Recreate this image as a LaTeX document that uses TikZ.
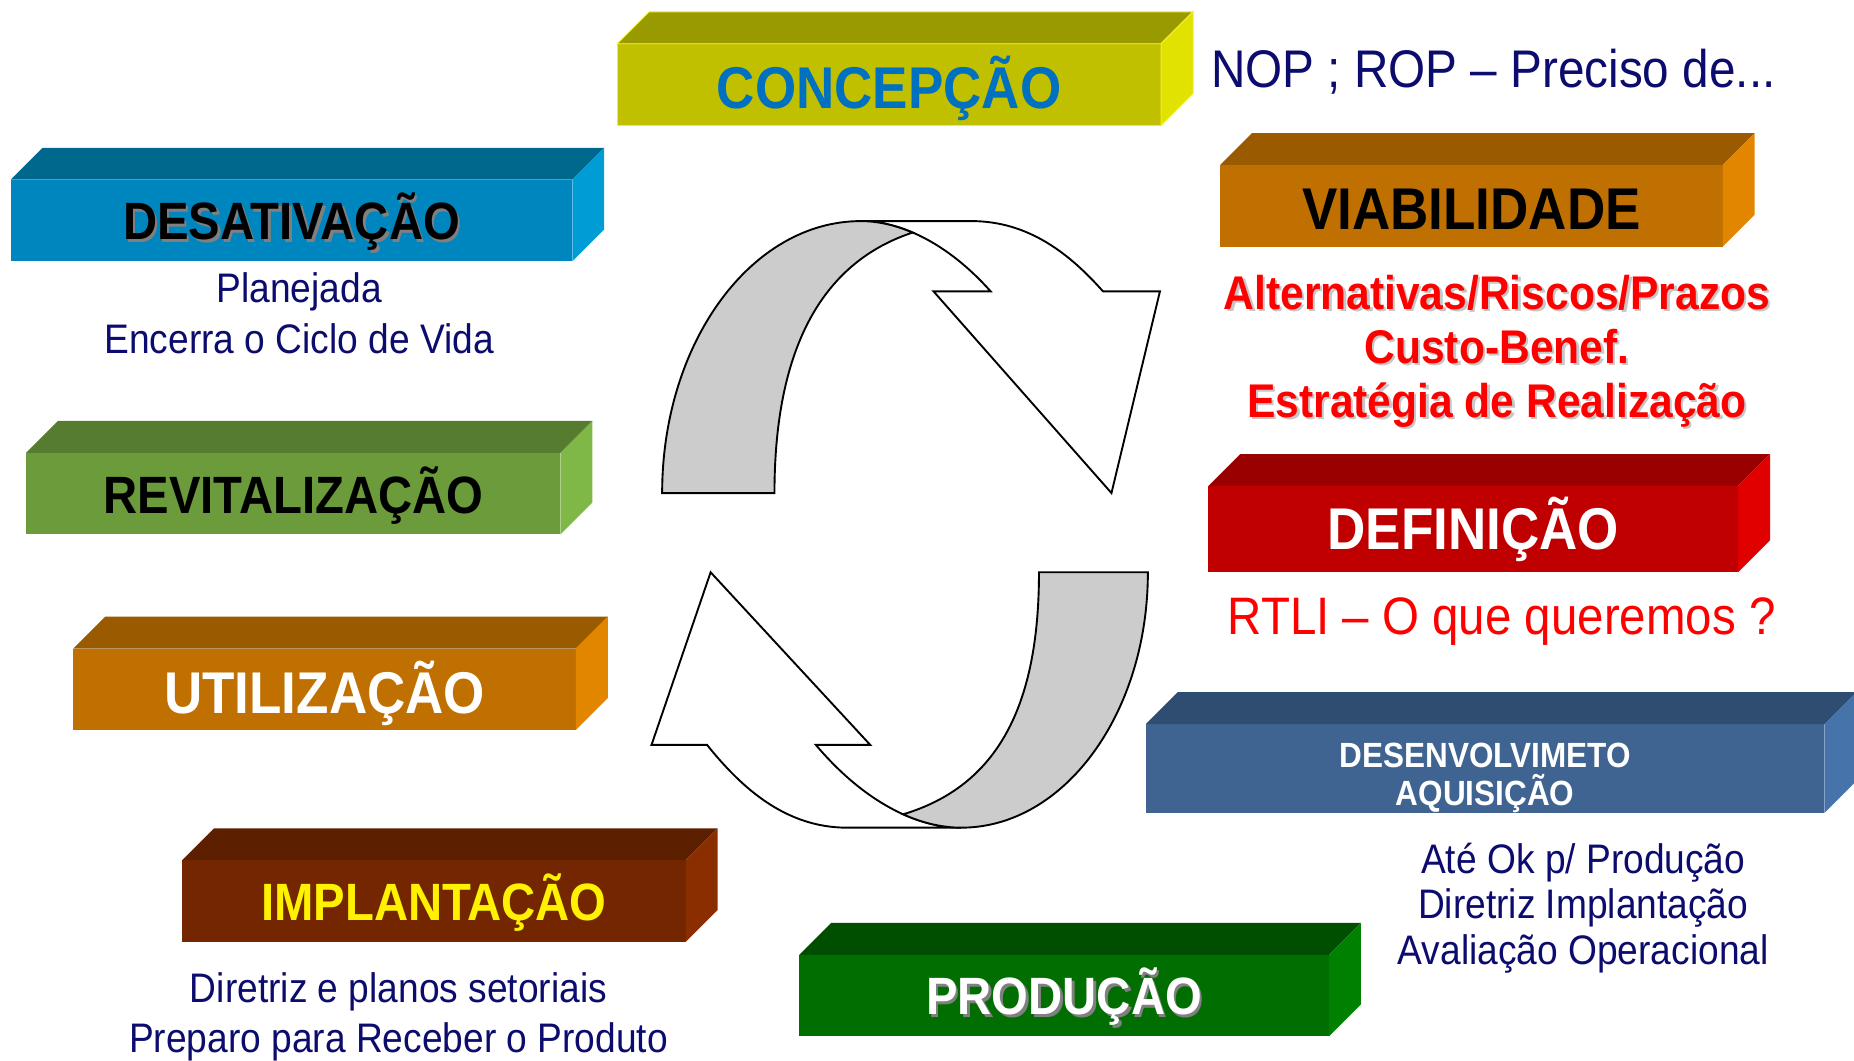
\documentclass[tikz,border=0pt]{standalone}
\usepackage{fontspec}
\setmainfont{Liberation Sans}[FakeStretch = 0.9]
\usetikzlibrary{
    calc,
    positioning
}

% box colours: front, top, side
\definecolor{concFront}{RGB}{192,192,0}
\definecolor{concTop}{RGB}{153,153,0}
\definecolor{concSide}{RGB}{226,226,0}
\definecolor{concGlow}{RGB}{240,240,40}
\definecolor{desFront}{RGB}{0,134,190}
\definecolor{desTop}{RGB}{0,104,140}
\definecolor{desSide}{RGB}{0,156,214}
\definecolor{revFront}{RGB}{107,155,58}
\definecolor{revTop}{RGB}{86,124,47}
\definecolor{revSide}{RGB}{128,184,72}
\definecolor{oraFront}{RGB}{192,112,0}
\definecolor{oraTop}{RGB}{153,90,0}
\definecolor{oraSide}{RGB}{226,134,0}
\definecolor{impFront}{RGB}{115,38,0}
\definecolor{impTop}{RGB}{92,31,0}
\definecolor{impSide}{RGB}{138,46,0}
\definecolor{proFront}{RGB}{0,110,0}
\definecolor{proTop}{RGB}{0,78,0}
\definecolor{proSide}{RGB}{0,128,0}
\definecolor{defFront}{RGB}{192,0,0}
\definecolor{defTop}{RGB}{153,0,0}
\definecolor{defSide}{RGB}{224,0,0}
\definecolor{dsvFront}{RGB}{63,100,145}
\definecolor{dsvTop}{RGB}{47,77,112}
\definecolor{dsvSide}{RGB}{70,115,170}
% text colours
\definecolor{concText}{RGB}{0,112,192}
\definecolor{navy}{RGB}{12,12,110}
\definecolor{alert}{RGB}{255,0,0}
\definecolor{bandGray}{RGB}{204,204,204}

\newcommand\shadowed[2][black!22]{%
    \leavevmode\rlap{\kern1pt\raisebox{-1pt}{\textcolor{#1}{#2}}}#2}

\tikzset{
    every picture/.style = {
        line join = miter
    },
    slab/.style = {
        inner sep = 0pt,
        outer sep = 0pt,
        minimum height = 34.5pt,
        align = center
    },
    bigtitle/.style = {
        font = \bfseries\fontsize{24.9}{28}\selectfont,
        text height = 20.3pt,
        text depth = 0pt
    },
    midtitle/.style = {
        font = \bfseries\fontsize{22.2}{26}\selectfont,
        text height = 16.4pt,
        text depth = 0pt
    },
    note/.style = {
        inner sep = 0pt,
        align = center,
        text = navy,
        font = \fontsize{17.45}{21.5}\selectfont
    },
    band/.style = {draw = black, line width = 0.8pt, fill = bandGray},
    turn/.style = {draw = black, line width = 0.8pt, fill = white}
}

\begin{document}
\begin{tikzpicture}[x = 0.5pt, y = -0.5pt]
    \useasboundingbox (0,0) rectangle (1568,897);

    % phase boxes (front faces)
    \node[slab, bigtitle, fill = concFront, draw = concGlow, text = concText, minimum width = 230pt] (concepcao) at (752,71.5) {CONCEPÇÃO};
    \node[slab, midtitle, fill = desFront, minimum width = 237.5pt] (desativacao) at (246.5,186.5) {\shadowed[black!50]{DESATIVAÇÃO}};
    \node[slab, midtitle, fill = revFront, minimum width = 226pt] (revitalizacao) at (248,417.5) {REVITALIZAÇÃO};
    \node[slab, bigtitle, fill = oraFront, text = white, minimum width = 212.5pt] (utilizacao) at (274.5,583) {UTILIZAÇÃO};
    \node[slab, midtitle, fill = impFront, text = yellow, minimum width = 213pt] (implantacao) at (367,762) {IMPLANTAÇÃO};
    \node[slab, midtitle, fill = proFront, text = white, minimum width = 224pt] (producao) at (900,842) {\shadowed[black!50]{PRODUÇÃO}};
    \node[slab, bigtitle, fill = oraFront, minimum width = 212.5pt] (viabilidade) at (1244.5,174) {VIABILIDADE};
    \node[slab, bigtitle, fill = defFront, text = white, minimum width = 224pt, minimum height = 36.5pt, text height = 17.3pt] (definicao) at (1246,447.5) {DEFINIÇÃO};
    \node[slab, fill = dsvFront, text = white, minimum width = 287pt, minimum height = 37pt,
          font = \bfseries\fontsize{14.8}{16}\selectfont] (desenvolvimento) at (1256,650) {\rule{0pt}{18.5pt}DESENVOLVIMETO\\AQUISIÇÃO};

    % top and side faces
    \foreach \n/\tp/\sd/\ed in {concepcao/concTop/concSide/concGlow,
                                desativacao/desTop/desSide/none,
                                revitalizacao/revTop/revSide/none,
                                utilizacao/oraTop/oraSide/none,
                                implantacao/impTop/impSide/none,
                                producao/proTop/proSide/none,
                                viabilidade/oraTop/oraSide/none,
                                definicao/defTop/defSide/none,
                                desenvolvimento/dsvTop/dsvSide/none}
    {
        \filldraw[fill = \tp, draw = \ed] (\n.north west) -- ++(27,-27)
            -- ([shift = {(27,-27)}]\n.north east) -- (\n.north east) -- cycle;
        \filldraw[fill = \sd, draw = \ed] (\n.north east) -- ++(27,-27)
            -- ([shift = {(27,-27)}]\n.south east) -- (\n.south east) -- cycle;
    }

    % notes
    \node[note, font = \fontsize{22.4}{24}\selectfont] (nop) at (1263,61) {NOP ; ROP -- Preciso de...};
    \node[note] (desNote) at (253,265) {Planejada\\Encerra o Ciclo de Vida};
    \node[note, text = alert, font = \bfseries\fontsize{20}{22.75}\selectfont] (viaNote) at (1266,298)
        {\shadowed{Alternativas/Riscos/Prazos}\\\shadowed{Custo-Benef.}\\\shadowed{Estratégia de Realização}};
    \node[note, text = alert, font = \fontsize{22.3}{24}\selectfont] (defNote) at (1270,526) {RTLI -- O que queremos ?};
    \node[note, font = \fontsize{17.45}{19.25}\selectfont] (dsvNote) at (1339,768) {Até Ok p/ Produção\\Diretriz Implantação\\Avaliação Operacional};
    \node[note] (impNote) at (337,860) {Diretriz e planos setoriais\\Preparo para Receber o Produto};

    % upper turning arrow
    \path[turn] (728,187) -- (821.7,187) .. controls (870,187) and (905,215) .. (932.8,246.4)
        -- (981,246.4) -- (940,417) -- (789.5,246.4) -- (837.8,246.4)
        .. controls (800,204) and (760,187) .. (728,187) -- cycle;
    \path[band] (560,417) .. controls (560,290) and (635.2,187) .. (728,187)
        .. controls (741.4,187) and (756.3,190) .. (771.8,196.7)
        .. controls (695,222) and (655,295) .. (655,417) -- cycle;

    % lower turning arrow
    \path[turn] (812.9,700) -- (716.4,700) .. controls (664.9,700) and (627.6,667) .. (598,630)
        -- (551,630) -- (601,484) -- (736,630) -- (690,630)
        .. controls (732.3,680) and (777,700) .. (812.9,700) -- cycle;
    \path[band] (878.7,484) -- (970.8,484) .. controls (970.8,603.3) and (900.1,700) .. (812.9,700)
        .. controls (797.8,700) and (781.2,696.5) .. (763.8,688.7)
        .. controls (843.8,664.7) and (878.7,597) .. (878.7,484) -- cycle;
\end{tikzpicture}
\end{document}
